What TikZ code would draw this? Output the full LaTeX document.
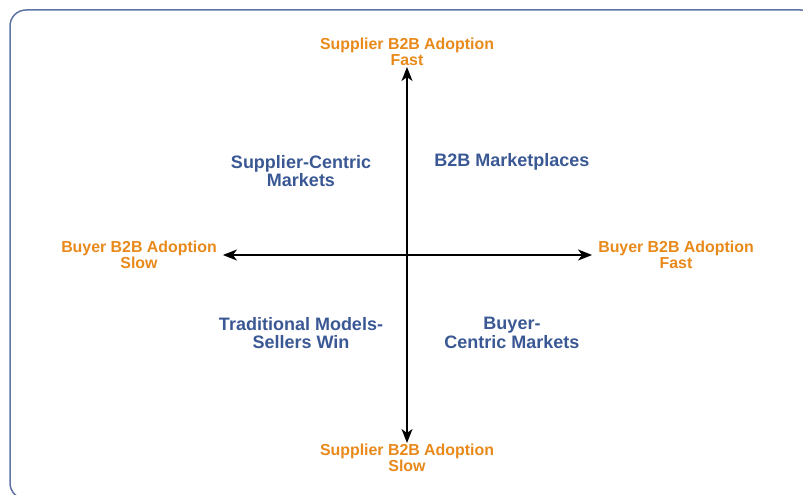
\documentclass[tikz,border=0pt]{standalone}
\usepackage{fontspec}
\setmainfont{Liberation Sans}
\usetikzlibrary{arrows.meta}

\definecolor{axisorange}{RGB}{232,137,26}
\definecolor{quadblue}{RGB}{58,88,148}
\definecolor{framegray}{RGB}{94,116,166}

\tikzset{
  axislabel/.style={text=axisorange, font=\bfseries\fontsize{15.9}{16}\selectfont, align=center, inner sep=1pt},
  quadlabel/.style={text=quadblue, font=\bfseries\fontsize{18}{18.5}\selectfont, align=center},
  axisline/.style={line width=1.8pt, {Stealth[length=14pt,width=11pt,inset=4pt]}-{Stealth[length=14pt,width=11pt,inset=4pt]}}
}

\begin{document}
\begin{tikzpicture}[x=1pt,y=-1pt]
    \useasboundingbox (0,0) rectangle (803,495);

    % Frame (runs off the right and bottom edge)
    \begin{scope}
        \clip (0,0) rectangle (803,495);
        \draw[framegray, line width=1.5pt, rounded corners=16pt] (10,10) rectangle (817,499);
    \end{scope}

    % Axis labels
    \node[axislabel] (suppfast) at (407,52) {Supplier B2B Adoption\\Fast};
    \node[axislabel] (suppslow) at (407,458) {Supplier B2B Adoption\\Slow};
    \node[axislabel] (buyslow) at (139,255) {Buyer B2B Adoption\\Slow};
    \node[axislabel] (buyfast) at (676,255) {Buyer B2B Adoption\\Fast};

    % Axes
    \draw[axisline] (suppslow) -- (suppfast);
    \draw[axisline, shorten <=5pt, shorten >=5pt] (buyslow) -- (buyfast);

    % Quadrants
    \node[quadlabel] (suppcentric) at (301,171) {Supplier-Centric\\Markets};
    \node[quadlabel] (marketplaces) at (512,162) {B2B Marketplaces};
    \node[quadlabel] (traditional) at (301,333) {Traditional Models-\\Sellers Win};
    \node[quadlabel] (buycentric) at (512,333) {Buyer-\\Centric Markets};
\end{tikzpicture}
\end{document}
